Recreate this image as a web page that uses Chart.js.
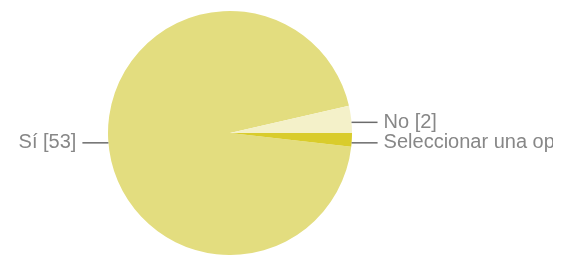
<!DOCTYPE html>
<html>
<head>
<meta charset="utf-8">
<script src="https://cdn.jsdelivr.net/npm/chart.js"></script>
<style>
  html, body { margin: 0; padding: 0; background: #fff; }
</style>
</head>
<body>
<canvas id="chart" width="574" height="255"></canvas>
<script>
const labels = ['Sí', 'No', 'Seleccionar una opción'];
const counts = [53, 2, 1];
const colors = ['#e3dd7f', '#f4f1c9', '#d9cc2c'];

const total = counts.reduce((a, b) => a + b, 0);

// labels outside the pie with short horizontal leader lines
const sideLabels = {
    id: 'sideLabels',
    afterDraw(chart) {
        const ctx = chart.ctx;
        const arcs = chart.getDatasetMeta(0).data;
        ctx.save();
        ctx.beginPath();
        ctx.rect(0, 0, 553, chart.height);
        ctx.clip();
        ctx.font = '20px "Liberation Sans", Arial, sans-serif';
        ctx.textBaseline = 'middle';
        arcs.forEach((arc, i) => {
            const mid = (arc.startAngle + arc.endAngle) / 2;
            const r = arc.outerRadius;
            const y = arc.y + Math.sin(mid) * r + 3;
            const dy = y - arc.y;
            const dx = Math.sqrt(Math.max(0, r * r - dy * dy));
            const right = Math.cos(mid) >= 0;
            const x0 = right ? arc.x + dx : arc.x - dx;
            const x1 = right ? x0 + 26 : x0 - 26;
            ctx.strokeStyle = '#6b6b6b';
            ctx.lineWidth = 1.5;
            ctx.beginPath();
            ctx.moveTo(x0, y);
            ctx.lineTo(x1, y);
            ctx.stroke();
            ctx.fillStyle = '#878787';
            ctx.textAlign = right ? 'left' : 'right';
            ctx.fillText(labels[i] + ' [' + counts[i] + ']', right ? x1 + 6 : x1 - 6, y);
        });
        ctx.restore();
    }
};

new Chart(document.getElementById('chart'), {
    type: 'pie',
    data: {
        labels: labels,
        datasets: [{
            data: counts,
            backgroundColor: colors,
            borderWidth: 0
        }]
    },
    options: {
        responsive: false,
        animation: false,
        rotation: 90 + 360 * counts[2] / total,
        layout: { padding: { left: 108, right: 222, top: 11, bottom: 0 } },
        plugins: {
            legend: { display: false },
            tooltip: { enabled: false }
        }
    },
    plugins: [sideLabels]
});
</script>
</body>
</html>
